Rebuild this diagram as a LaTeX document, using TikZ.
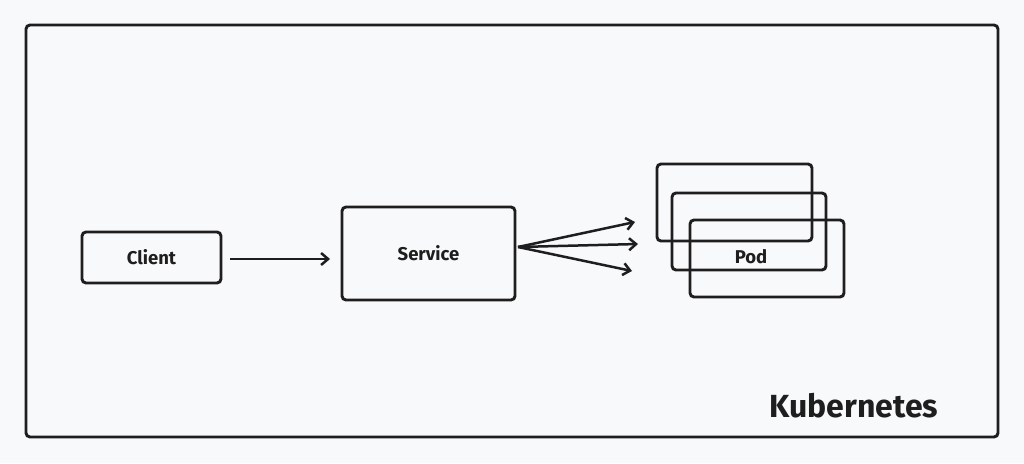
\documentclass[tikz,border=0pt]{standalone}
\usepackage{fontspec}
\setmainfont{Fira Sans}
\usetikzlibrary{arrows.meta}
\definecolor{bg}{HTML}{F8F9FA}
\definecolor{ink}{HTML}{1E1E1E}
\tikzset{
  box/.style={draw=ink, line width=2.9pt, rounded corners=4pt, inner sep=0pt},
  conn/.style={draw=ink, line width=2.5pt, -{Straight Barb[length=7pt,width=12pt,line width=2.5pt]}},
  lbl/.style={text=ink, font=\fontsize{18.5}{21}\selectfont\bfseries},
}
\begin{document}
\begin{tikzpicture}[x=1pt,y=-1pt]
\useasboundingbox[fill=bg] (0,0) rectangle (1024,463);
\node[box, minimum width=972pt, minimum height=412pt] (k8s) at (512,231) {};
\node[box, minimum width=139pt, minimum height=51pt] (client) at (151.5,257.5) {};
\node[lbl] (clientt) at (151.5,257) {Client};
\node[box, minimum width=173pt, minimum height=93pt] (service) at (428.5,253.5) {};
\node[lbl] (servicet) at (428.5,253) {Service};
\node[box, minimum width=155pt, minimum height=77pt] (pod1) at (734.5,202.5) {};
\node[box, minimum width=154pt, minimum height=77pt] (pod2) at (749,231.5) {};
\node[box, minimum width=154pt, minimum height=77pt] (pod3) at (767,258.5) {};
\node[lbl] (podt) at (751,257) {Pod};
\node[text=ink, font=\fontsize{32}{36}\selectfont\bfseries] (kt) at (854,406) {Kubernetes};
\coordinate (cs) at (230,259);
\coordinate (ce) at (330,259);
\coordinate (so) at (518,247);
\coordinate (p1) at (635,222);
\coordinate (p2) at (638,244);
\coordinate (p3) at (632,271);
\draw[conn] (cs) -- (ce);
\draw[conn] (so) -- (p1);
\draw[conn] (so) -- (p2);
\draw[conn] (so) -- (p3);
\end{tikzpicture}
\end{document}
